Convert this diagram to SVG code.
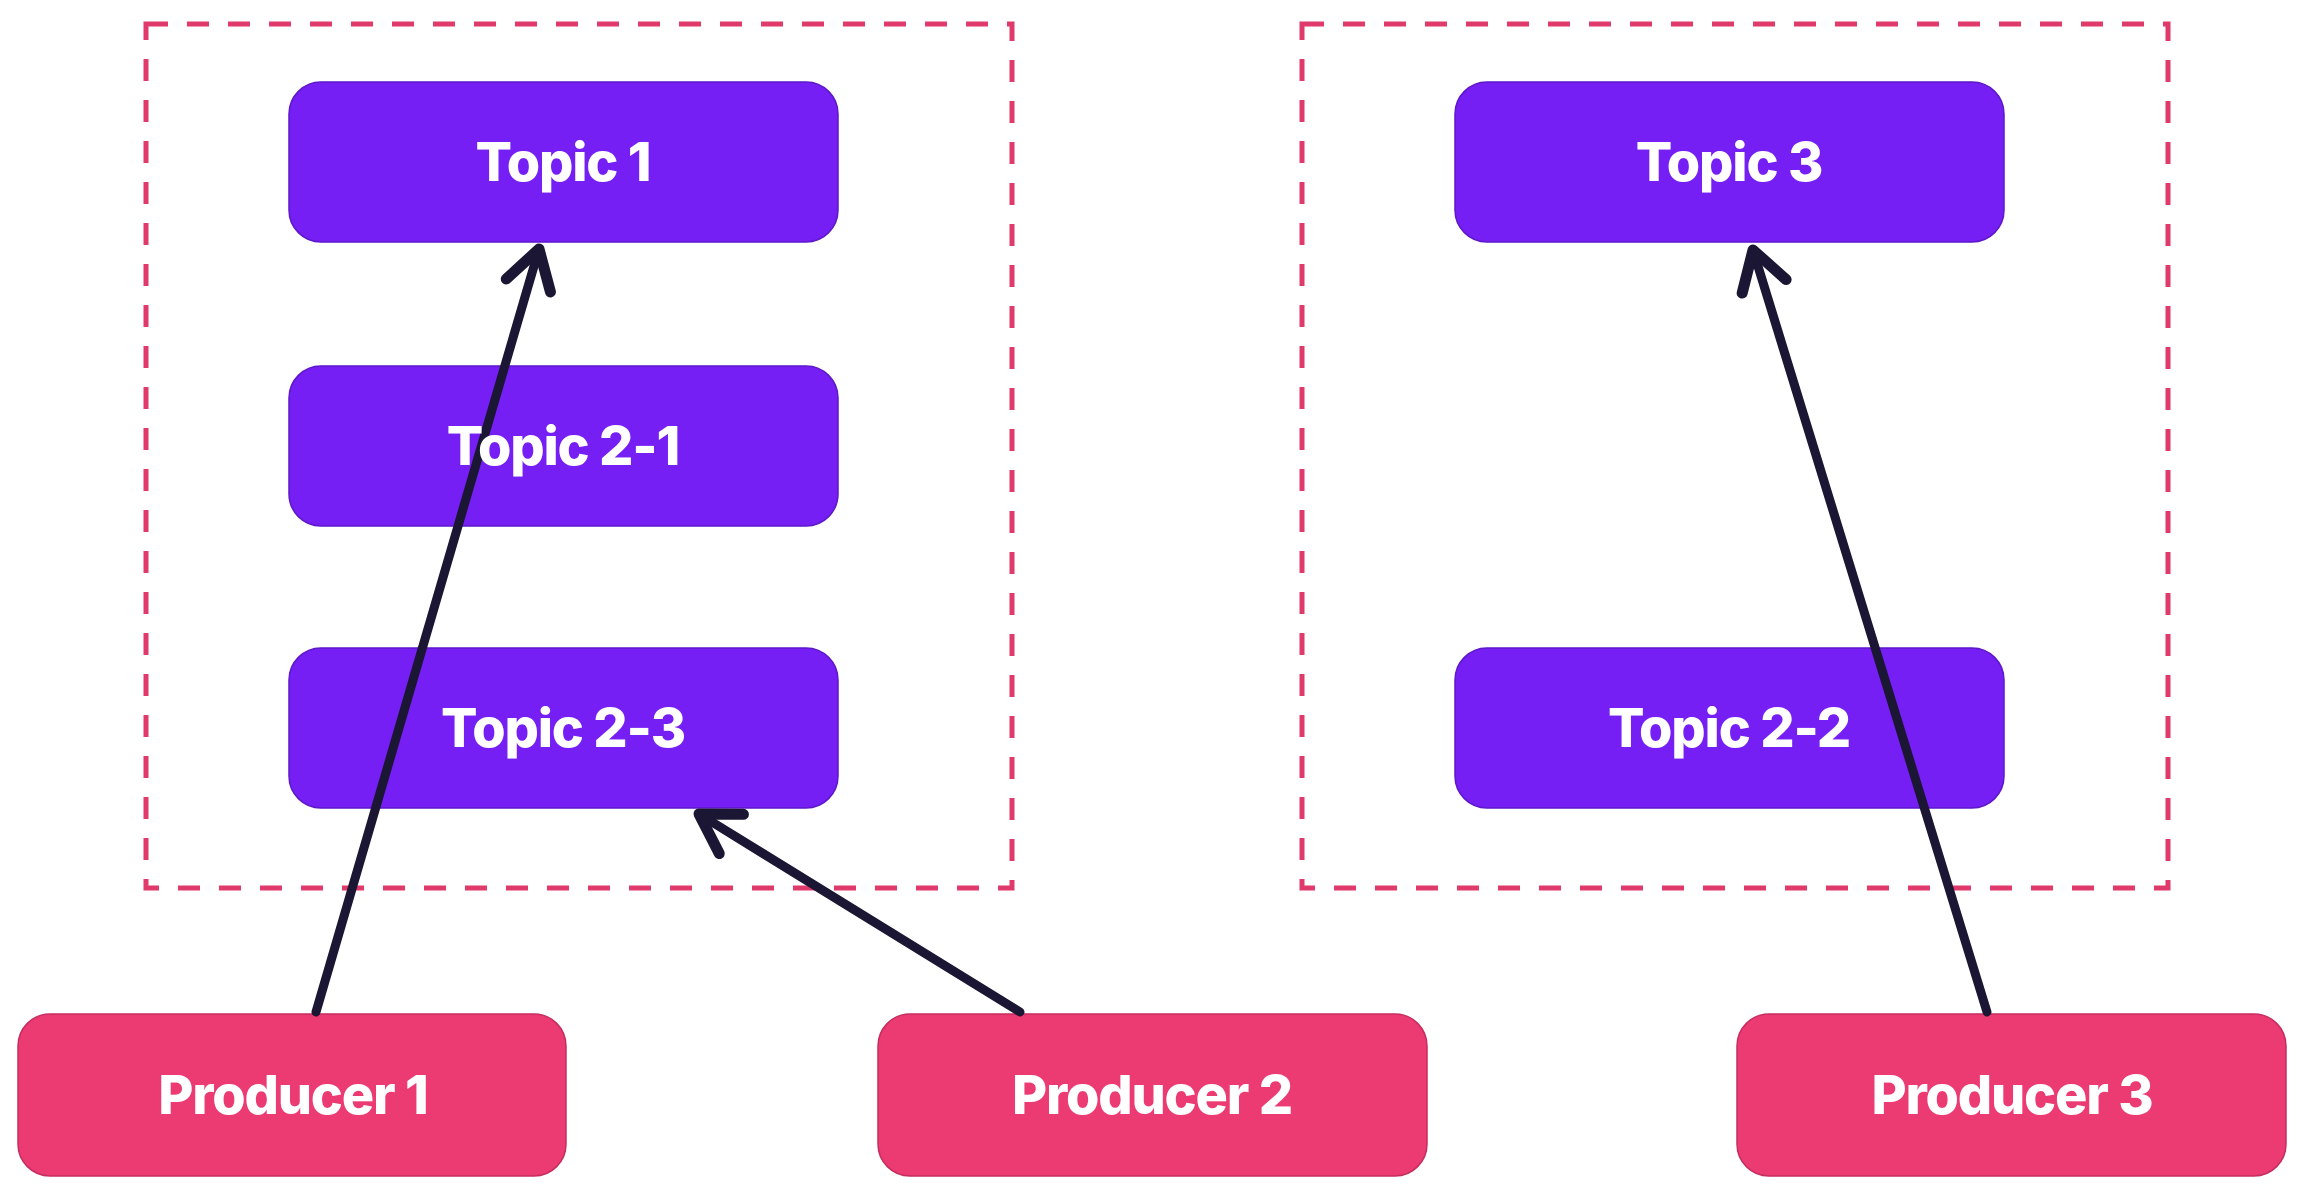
<svg xmlns="http://www.w3.org/2000/svg" width="2304" height="1196" viewBox="0 0 2304 1196">
  <defs>
    <style>
      .group-frame { fill: none; stroke: #E03A6C; stroke-width: 5; stroke-dasharray: 22 19; }
      .topic { fill: #751FF5; stroke: #5E17C9; stroke-width: 1.5; }
      .producer { fill: #EC3A73; stroke: #C62D5E; stroke-width: 1.5; }
      .label { font-family: Inter, "Noto Sans", "Liberation Sans", sans-serif; font-weight: 800; font-size: 54px; fill: #FFFFFF; text-anchor: middle; letter-spacing: -1.2px; }
      .link { fill: none; stroke: #1B1633; stroke-width: 9; stroke-linecap: round; marker-end: url(#chevron); }
    </style>
    <marker id="chevron" markerUnits="userSpaceOnUse" viewBox="-48 -34 60 68" refX="0" refY="0" markerWidth="60" markerHeight="68" orient="auto">
      <path d="M-38,-23 L0,0 L-38,23" fill="none" stroke="#1B1633" stroke-width="11" stroke-linecap="round" stroke-linejoin="round"/>
    </marker>
  </defs>

  <rect width="2304" height="1196" fill="#FFFFFF"/>

  <!-- dashed grouping frames -->
  <g id="frames">
    <rect class="group-frame" x="146" y="24" width="866" height="864"/>
    <rect class="group-frame" x="1302" y="24" width="866" height="864"/>
  </g>

  <!-- node shapes -->
  <g id="topic-1"><rect class="topic" x="289" y="82" width="549" height="160" rx="32"/></g>
  <g id="topic-2-1"><rect class="topic" x="289" y="366" width="549" height="160" rx="32"/></g>
  <g id="topic-2-3"><rect class="topic" x="289" y="648" width="549" height="160" rx="32"/></g>
  <g id="topic-3"><rect class="topic" x="1455" y="82" width="549" height="160" rx="32"/></g>
  <g id="topic-2-2"><rect class="topic" x="1455" y="648" width="549" height="160" rx="32"/></g>
  <g id="producer-1"><rect class="producer" x="18" y="1014" width="548" height="162" rx="32"/></g>
  <g id="producer-2"><rect class="producer" x="878" y="1014" width="549" height="162" rx="32"/></g>
  <g id="producer-3"><rect class="producer" x="1737" y="1014" width="549" height="162" rx="32"/></g>

  <!-- connectors: producer to topic -->
  <g id="connectors">
    <path class="link" d="M316,1012 L539,249"/>
    <path class="link" d="M1020,1012 L699,814"/>
    <path class="link" d="M1987,1012 L1753,250"/>
  </g>

  <!-- node labels, drawn above the connectors -->
  <g id="labels">
    <text class="label" x="563" y="181">Topic 1</text>
    <text class="label" x="563" y="465">Topic 2-1</text>
    <text class="label" x="563" y="747">Topic 2-3</text>
    <text class="label" x="1729" y="181">Topic 3</text>
    <text class="label" x="1729" y="747">Topic 2-2</text>
    <text class="label" x="293" y="1114">Producer 1</text>
    <text class="label" x="1152" y="1114">Producer 2</text>
    <text class="label" x="2012" y="1114">Producer 3</text>
  </g>
</svg>
